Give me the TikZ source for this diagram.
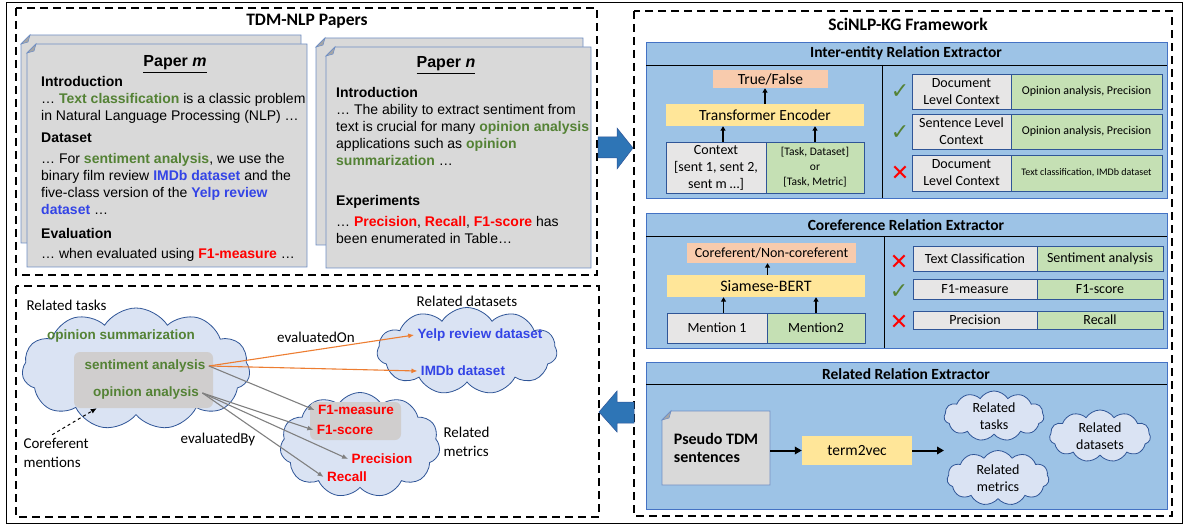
\documentclass[tikz,border=0pt]{standalone}
\usepackage{fontspec}
\setmainfont{Carlito}
\newfontfamily\arialfont{Liberation Sans}
\newfontfamily\markfont{DejaVu Sans}
\usetikzlibrary{shapes.symbols,arrows.meta}

\definecolor{panelblue}{HTML}{9DC3E6}
\definecolor{panelline}{HTML}{4472C4}
\definecolor{boxline}{HTML}{2F5597}
\definecolor{boxgray}{HTML}{E7E6E6}
\definecolor{boxgreen}{HTML}{C5E0B4}
\definecolor{boxsalmon}{HTML}{F8CBAD}
\definecolor{boxyellow}{HTML}{FFE699}
\definecolor{cloudfill}{HTML}{DAE3F3}
\definecolor{cloudline}{HTML}{2F5597}
\definecolor{sheetfill}{HTML}{D9D9D9}
\definecolor{sheetline}{HTML}{6F8FC4}
\definecolor{foldgray}{HTML}{A6A6A6}
\definecolor{mergegray}{HTML}{D0CECE}
\definecolor{termgreen}{HTML}{548235}
\definecolor{termblue}{HTML}{3344E6}
\definecolor{termred}{HTML}{FF0000}
\definecolor{evalorange}{HTML}{ED7D31}
\definecolor{evalgray}{HTML}{808080}
\definecolor{bigarrowblue}{HTML}{2E75B6}

\newcommand{\gterm}[1]{\textbf{\color{termgreen}#1}}
\newcommand{\bterm}[1]{\textbf{\color{termblue}#1}}
\newcommand{\rterm}[1]{\textbf{\color{termred}#1}}
% sheet of paper with a folded corner: x1 y1 x2 y2
\newcommand{\docsheet}[4]{%
  \draw[sheet] ({#1+9},#2) -- (#3,#2) -- (#3,#4) -- (#1,#4) -- (#1,{#2+9}) -- cycle;
  \draw[fold] ({#1+9},#2) -- (#1,{#2+9}) -- ({#1+7},{#2+7}) -- cycle;}

\tikzset{
  dashbox/.style={line width=2pt, dash pattern=on 8pt off 5pt},
  bigtitle/.style={font=\fontsize{17.5}{20}\selectfont\bfseries},
  paneltitle/.style={font=\fontsize{15.5}{18}\selectfont\bfseries},
  panel/.style={draw=panelline, fill=panelblue, line width=0.8pt},
  sheet/.style={draw=sheetline, fill=sheetfill, line width=0.8pt},
  fold/.style={draw=sheetline, fill=foldgray, line width=0.6pt},
  paperhead/.style={anchor=base, inner sep=0pt, font=\arialfont\fontsize{16}{18}\selectfont\bfseries},
  papertext/.style={anchor=north west, inner sep=0pt, align=left, font=\arialfont\fontsize{14}{17}\selectfont},
  cell/.style={draw=boxline, line width=0.7pt, inner sep=0pt, align=center, font=\fontsize{14}{17}\selectfont},
  graycell/.style={cell, fill=boxgray},
  greencell/.style={cell, fill=boxgreen},
  outcell/.style={fill=boxsalmon, inner sep=0pt, font=\fontsize{15.5}{18}\selectfont},
  enccell/.style={fill=boxyellow, inner sep=0pt, font=\fontsize{15.5}{18}\selectfont},
  okmark/.style={text=termgreen, inner sep=0pt, font=\markfont\fontsize{22}{22}\selectfont},
  nomark/.style={text=termred, inner sep=0pt, font=\markfont\fontsize{22}{22}\selectfont},
  uparrow/.style={line width=1.5pt, -{Triangle[length=4.5pt,width=5pt]}},
  flowarrow/.style={line width=2pt, -{Triangle[length=7pt,width=7.5pt]}},
  kgcloud/.style={cloud, cloud puffs=11, cloud puff arc=115, cloud ignores aspect, draw=cloudline, fill=cloudfill, line width=0.8pt, inner sep=0pt, align=center},
  mergebox/.style={fill=mergegray, rounded corners=6pt, inner sep=0pt},
  kgterm/.style={font=\arialfont\fontsize{13.5}{16}\selectfont\bfseries},
  plainlabel/.style={align=left, font=\fontsize{15}{19}\selectfont},
  evalon/.style={draw=evalorange, line width=1.1pt, -{Latex[length=6pt,width=5pt]}},
  evalby/.style={draw=evalgray, line width=1.1pt, -{Latex[length=6pt,width=5pt]}},
  corefarrow/.style={dashed, line width=1pt, -{Latex[length=6pt,width=5pt]}},
  blockarrow/.style={fill=bigarrowblue, draw=boxline, line width=0.5pt},
}

\begin{document}
\begin{tikzpicture}[x=1pt,y=-1pt,>=latex]
\useasboundingbox (0,0) rectangle (1188,526);
% frames
\draw[line width=1pt] (6,3) rectangle (1182,523);
\draw[dashbox] (16,8) rectangle (597,275);
\draw[dashbox] (16,286) rectangle (599,517);
\draw[dashbox] (634,11) rectangle (1172,516);

% ---- TDM-NLP papers
\node[bigtitle] (papertitle) at (307,21) {TDM-NLP Papers};
\docsheet{21}{35}{301}{243}
\docsheet{27}{44}{307}{267}
\node[paperhead] (mhead) at (175,67) {\underline{Paper \textit{m}}};
\node[papertext] (mtext) at (41,75.8) {\textbf{Introduction}\\
  … \gterm{Text classification} is a classic problem\\
  in Natural Language Processing (NLP) …\\[5pt]
  \textbf{Dataset}\\[4pt]
  … For \gterm{sentiment analysis}, we use the\\
  binary film review \bterm{IMDb dataset} and the\\
  five-class version of the \bterm{Yelp review}\\
  \bterm{dataset} …\\[7pt]
  \textbf{Evaluation}\\[3pt]
  … when evaluated using \rterm{F1-measure} …};
\docsheet{316}{38}{583}{245}
\docsheet{326}{47}{591}{268}
\node[paperhead] (nhead) at (446,68) {\underline{Paper \textit{n}}};
\node[papertext] (ntext) at (336,86.8) {\textbf{Introduction}\\
  … The ability to extract sentiment from\\
  text is crucial for many \gterm{opinion analysis}\\
  applications such as \gterm{opinion}\\
  \gterm{summarization} …\\[23pt]
  \textbf{Experiments}\\[4pt]
  … \rterm{Precision}, \rterm{Recall}, \rterm{F1-score} has\\
  been enumerated in Table…};

% block arrows between the frames
\draw[blockarrow] (598,137) -- (617,137) -- (617,128) -- (633,148) -- (617,169) -- (617,158) -- (598,158) -- cycle;
\draw[blockarrow] (634,402) -- (617,402) -- (617,391) -- (599,412) -- (617,432) -- (617,423) -- (634,423) -- cycle;

% ---- SciNLP-KG framework
\node[bigtitle] (kgtitle) at (908,24) {SciNLP-KG Framework};

% inter-entity relation extractor
\draw[panel] (646,42) rectangle (1167,198);
\draw[line width=0.8pt] (646,65) -- (1167,65);
\draw[line width=0.8pt] (882,65) -- (882,198);
\node[paneltitle] (intertitle) at (906,53.5) {Inter-entity Relation Extractor};
\node[outcell, minimum width=115pt, minimum height=18pt] (tf) at (770.5,79) {True/False};
\node[enccell, minimum width=198pt, minimum height=22pt] (enc) at (765,115) {Transformer Encoder};
\node[graycell, minimum width=100pt, minimum height=51pt] (ctx) at (716,167.5) {Context\\{}[sent 1, sent 2,\\sent m …]};
\node[greencell, minimum width=98pt, minimum height=51pt, font=\fontsize{11.5}{15}\selectfont] (pair) at (815,167.5) {[Task, Dataset]\\or\\{}[Task, Metric]};
\draw[uparrow] ([xshift=7pt]ctx.north) -- ([xshift=7pt]ctx.north |- enc.south);
\draw[uparrow] (pair.north) -- (pair.north |- enc.south);
\draw[uparrow] (enc.north) -- (enc.north |- tf.south);
\node[okmark] (ok1) at (900,92) {✓};
\node[okmark] (ok2) at (900,133) {✓};
\node[nomark] (no1) at (900,173) {✕};
\node[graycell, minimum width=99pt, minimum height=35pt] (d1) at (961.5,91.5) {Document\\Level Context};
\node[greencell, minimum width=151pt, minimum height=35pt, font=\fontsize{12}{14}\selectfont] (d1v) at (1086.5,91.5) {Opinion analysis, Precision};
\node[graycell, minimum width=99pt, minimum height=35pt] (d2) at (961.5,131.5) {Sentence Level\\Context};
\node[greencell, minimum width=151pt, minimum height=35pt, font=\fontsize{12}{14}\selectfont] (d2v) at (1086.5,131.5) {Opinion analysis, Precision};
\node[graycell, minimum width=99pt, minimum height=36pt] (d3) at (961.5,173) {Document\\Level Context};
\node[greencell, minimum width=151pt, minimum height=36pt, font=\fontsize{10}{12}\selectfont] (d3v) at (1086.5,173) {Text classification, IMDb dataset};

% coreference relation extractor
\draw[panel] (646,213) rectangle (1167,348);
\draw[line width=0.8pt] (646,236) -- (1167,236);
\draw[line width=0.8pt] (884,236) -- (884,348);
\node[paneltitle] (coreftitle) at (906,225) {Coreference Relation Extractor};
\node[outcell, minimum width=169pt, minimum height=20pt, font=\fontsize{14}{17}\selectfont] (cr) at (771.5,253) {Coreferent/Non-coreferent};
\node[enccell, minimum width=198pt, minimum height=22pt, font=\fontsize{16}{18}\selectfont] (sb) at (766,286) {Siamese-BERT};
\node[graycell, minimum width=100pt, minimum height=30pt] (m1) at (717,328) {Mention 1};
\node[greencell, minimum width=98pt, minimum height=30pt] (m2) at (816,328) {Mention2};
\draw[uparrow] ([xshift=6.5pt]m1.north) -- ([xshift=6.5pt]m1.north |- sb.south);
\draw[uparrow] (m2.north) -- (m2.north |- sb.south);
\draw[uparrow] ([xshift=1.5pt]sb.north) -- ([xshift=1.5pt]sb.north |- cr.south);
\node[nomark] (no2) at (899,262) {✕};
\node[okmark] (ok3) at (899,292) {✓};
\node[nomark] (no3) at (899,322) {✕};
\node[graycell, minimum width=124pt, minimum height=25pt] (c1) at (975,258.5) {Text Classification};
\node[greencell, minimum width=126pt, minimum height=25pt] (c1v) at (1100,258.5) {Sentiment analysis};
\node[graycell, minimum width=124pt, minimum height=20pt] (c2) at (975,289) {F1-measure};
\node[greencell, minimum width=126pt, minimum height=20pt] (c2v) at (1100,289) {F1-score};
\node[graycell, minimum width=124pt, minimum height=18pt] (c3) at (975,320) {Precision};
\node[greencell, minimum width=126pt, minimum height=18pt] (c3v) at (1100,320) {Recall};

% related relation extractor
\draw[panel] (646,362) rectangle (1167,509);
\draw[line width=0.8pt] (646,384) -- (1167,384);
\node[paneltitle] (reltitle) at (906,374) {Related Relation Extractor};
\docsheet{662}{411}{770}{485}
\node[inner sep=0pt, minimum width=108pt, minimum height=74pt, align=left, font=\fontsize{16}{18}\selectfont\bfseries] (pseudo) at (716,448) {Pseudo TDM\\sentences};
\node[enccell, minimum width=110pt, minimum height=29pt] (t2v) at (857,450.5) {term2vec};
\coordinate (t2vout) at (944,450.5);
\draw[flowarrow] (pseudo.east |- t2v.west) -- (t2v.west);
\draw[flowarrow] (t2v.east) -- (t2vout);
\node[kgcloud, minimum width=100pt, minimum height=50pt, font=\fontsize{14}{17}\selectfont] (relt) at (994,416) {Related\\tasks};
\node[kgcloud, minimum width=102pt, minimum height=55pt, font=\fontsize{14}{17}\selectfont] (relm) at (998,478) {Related\\metrics};
\node[kgcloud, minimum width=101pt, minimum height=52pt, font=\fontsize{14}{17}\selectfont] (reld) at (1100,436) {Related\\datasets};

% ---- knowledge graph sketch
\node[kgcloud, minimum width=228pt, minimum height=122pt] (taskcloud) at (136,369) {};
\node[kgcloud, minimum width=180pt, minimum height=87pt] (datacloud) at (467,351) {};
\node[kgcloud, minimum width=160pt, minimum height=105pt] (metcloud) at (360,445) {};
\node[mergebox, minimum width=139pt, minimum height=56pt] (taskmerge) at (143.5,380) {};
\node[mergebox, minimum width=91pt, minimum height=38pt] (metmerge) at (355.5,421) {};
\node[plainlabel, anchor=west] (tasklabel) at (23,305) {Related tasks};
\node[plainlabel] (datalabel) at (467,301) {Related datasets};
\node[plainlabel, anchor=west] (metlabel) at (440,442) {Related\\metrics};
\node[kgterm, text=termgreen] (osum) at (121,336) {opinion summarization};
\node[kgterm, text=termgreen] (sent) at (145,366) {sentiment analysis};
\node[kgterm, text=termgreen] (opan) at (146,393) {opinion analysis};
\node[kgterm, text=termblue] (yelp) at (480,335) {Yelp review dataset};
\node[kgterm, text=termblue] (imdb) at (463,371) {IMDb dataset};
\node[kgterm, text=termred] (f1m) at (356,410) {F1-measure};
\node[kgterm, text=termred] (f1s) at (345,430) {F1-score};
\node[kgterm, text=termred] (prec) at (382,459) {Precision};
\node[kgterm, text=termred] (rec) at (347,477) {Recall};
\node[plainlabel, anchor=west] (corefnote) at (20,453) {Coreferent\\mentions};
\node[plainlabel] (evonlabel) at (316,337) {evaluatedOn};
\node[plainlabel] (evbylabel) at (218,439) {evaluatedBy};
\draw[evalon] (sent.east) -- (yelp.west);
\draw[evalon] (sent.east) -- (imdb.west);
\draw[evalby] (sent.east) -- (f1m.west);
\draw[evalby] (opan.east) -- (f1s.west);
\draw[evalby] (opan.east) -- (prec.west);
\draw[evalby] (opan.east) -- (rec.west);
\draw[corefarrow] ([xshift=-4pt]corefnote.north) -- ([xshift=23pt]taskmerge.south west);
\end{tikzpicture}
\end{document}
